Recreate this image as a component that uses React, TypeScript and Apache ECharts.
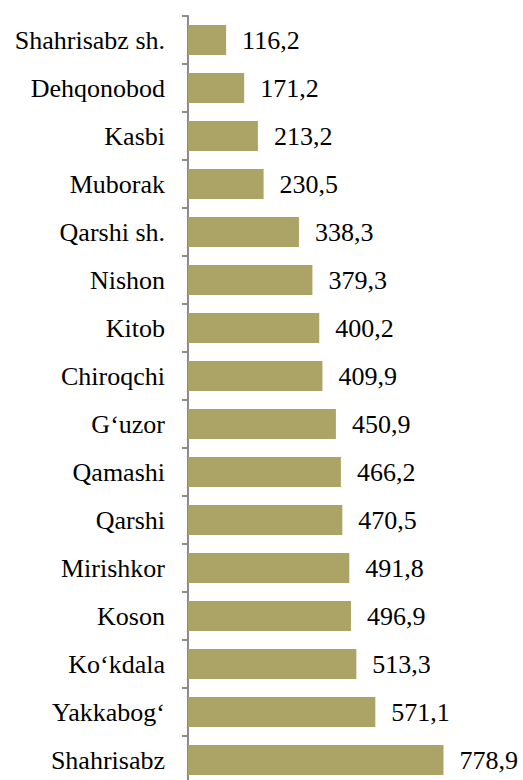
import React, { useEffect, useRef } from "react";
import * as echarts from "echarts";

const categories = [
  "Shahrisabz sh.",
  "Dehqonobod",
  "Kasbi",
  "Muborak",
  "Qarshi sh.",
  "Nishon",
  "Kitob",
  "Chiroqchi",
  "G‘uzor",
  "Qamashi",
  "Qarshi",
  "Mirishkor",
  "Koson",
  "Ko‘kdala",
  "Yakkabog‘",
  "Shahrisabz",
];

const values = [
  116.2, 171.2, 213.2, 230.5, 338.3, 379.3, 400.2, 409.9, 450.9, 466.2, 470.5,
  491.8, 496.9, 513.3, 571.1, 778.9,
];

const FONT = "serif";

export default function App() {
  const ref = useRef<HTMLDivElement>(null);

  useEffect(() => {
    if (!ref.current) return;
    const chart = echarts.init(ref.current, undefined, { renderer: "svg" });
    chart.setOption({
      animation: false,
      backgroundColor: "#ffffff",
      grid: {
        left: 188,
        right: 7,
        top: 16,
        height: 768,
        containLabel: false,
        outerBoundsMode: "none",
      },
      xAxis: { type: "value", min: 0, max: 1000, show: false },
      yAxis: {
        type: "category",
        data: categories,
        inverse: true,
        axisLine: { show: true, lineStyle: { color: "#8a8a8a", width: 2 } },
        axisTick: {
          show: true,
          interval: 0,
          length: 6,
          lineStyle: { color: "#8a8a8a", width: 2 },
        },
        axisLabel: {
          color: "#000000",
          fontFamily: FONT,
          fontSize: 26,
          margin: 23,
        },
        splitLine: { show: false },
      },
      series: [
        {
          type: "bar",
          data: values,
          barWidth: 30,
          itemStyle: { color: "#aca466" },
          label: {
            show: true,
            position: "right",
            distance: 16,
            color: "#000000",
            fontFamily: FONT,
            fontSize: 26,
            formatter: (p: any) => Number(p.value).toFixed(1).replace(".", ","),
          },
        },
      ],
    });
    return () => chart.dispose();
  }, []);

  return (
    <div
      ref={ref}
      style={{ position: "fixed", left: 0, top: 0, width: 523, height: 780, background: "#fff" }}
    />
  );
}
